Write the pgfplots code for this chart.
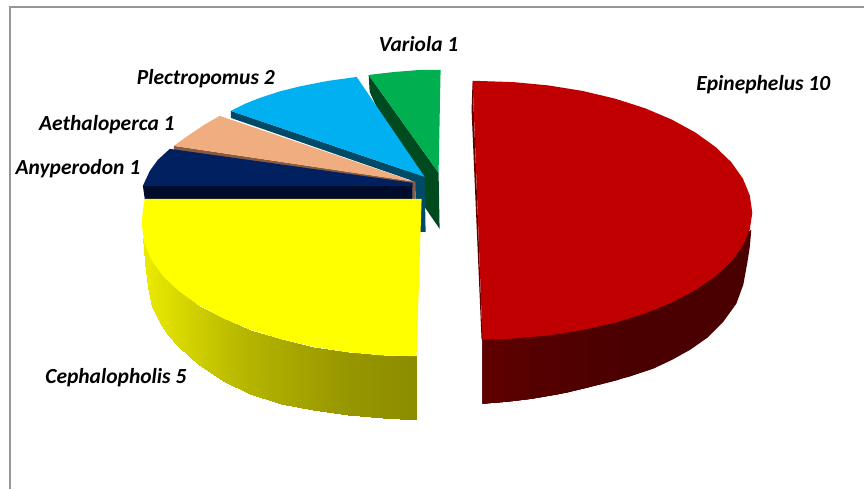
\documentclass[border=0pt]{standalone}
\usepackage{pgfplots}
\pgfplotsset{compat=1.18}
\usepackage{fontspec}
\setmainfont{Carlito}
\definecolor{cred}{HTML}{C00000}
\definecolor{cyel}{HTML}{FFFF00}
\definecolor{cnavy}{HTML}{002060}
\definecolor{cnavyd}{HTML}{000C2C}
\definecolor{cpeach}{HTML}{F0AE80}
\definecolor{cpeachd}{HTML}{8A5A40}
\definecolor{cblue}{HTML}{00B0F0}
\definecolor{cblued}{HTML}{004A68}
\definecolor{cgreen}{HTML}{00B050}
\definecolor{cgreend}{HTML}{004A20}
\definecolor{cframe}{HTML}{969696}
\tikzset{lab/.style={font=\fontsize{21.5}{24}\selectfont\bfseries\itshape, text=black}}
\begin{document}
\begin{tikzpicture}
\begin{axis}[
  scale only axis, width=865pt, height=489pt,
  xmin=0, xmax=865, ymin=0, ymax=489, y dir=reverse,
  axis lines=none, clip=false,
  every axis plot/.append style={draw=none, mark=none},
  colormap={sidey}{rgb255(140)=(140,140,0) rgb255(235)=(235,235,0)},
  point meta min=140, point meta max=235,
]
\path (axis cs:0,0) (axis cs:865,489);
% frame
\addplot[draw=cframe, line width=1.6pt] coordinates {(10,489) (10,7) (865,7)};
% Variola
\addplot[fill=cgreend] coordinates {(369,75) (439,173) (440,229) (420,200) (370,92)} -- cycle;
\addplot[fill=cgreen] coordinates {(369,75) (382,73.5) (395,72) (408,71) (420,70) (441,70) (439,173)} -- cycle;
% Plectropomus
\addplot[fill=cblued] coordinates {(231,111) (425,177) (426,232) (416,232) (416,182) (231,118)} -- cycle;
\addplot[fill=cblue] coordinates {(231,111) (245,104) (260,98) (280,91.5) (300,86.5) (328,81) (357,77) (425,177)} -- cycle;
% Aethaloperca
\addplot[fill=cpeachd] coordinates {(174,146) (416,182) (416,199) (413,199) (413,187) (174,150)} -- cycle;
\addplot[fill=cpeach] coordinates {(174,146) (190,134.5) (205,124.5) (220,116) (415,182)} -- cycle;
% Anyperodon
\addplot[fill=cnavyd] coordinates {(143,186) (413,186) (413,200) (145,200)} -- cycle;
\addplot[fill=cnavy] coordinates {(170,149) (158,160) (150,171) (143,186) (413,186) (413,183)} -- cycle;
% Cephalopholis side
\addplot[patch, patch type=rectangle, shader=interp, point meta=explicit]
  coordinates {
  (143,238) [235] (145,262) [234] (148,287) [232] (148,253) [232]
  (148,253) [232] (148,287) [232] (152,307) [230] (152,261) [230]
  (152,261) [230] (152,307) [230] (160,323) [226] (160,272) [226]
  (160,272) [226] (160,323) [226] (168,335) [222] (168,281) [222]
  (168,281) [222] (168,335) [222] (178,346) [216] (178,290) [216]
  (178,290) [216] (178,346) [216] (190,357) [210] (190,299) [210]
  (190,299) [210] (190,357) [210] (199.5,365) [205] (199.5,305.8) [205]
  (199.5,305.8) [205] (199.5,365) [205] (223.5,381) [192] (223.5,318.6) [192]
  (223.5,318.6) [192] (223.5,381) [192] (250.7,394) [180] (250.7,329.9) [180]
  (250.7,329.9) [180] (250.7,394) [180] (281,404) [170] (281,339.4) [170]
  (281,339.4) [170] (281,404) [170] (313.5,410.5) [160] (313.5,347) [160]
  (313.5,347) [160] (313.5,410.5) [160] (348,415) [150] (348,352.5) [150]
  (348,352.5) [150] (348,415) [150] (383.6,418) [145] (383.6,355.8) [145]
  (383.6,355.8) [145] (383.6,418) [145] (417,420) [140] (417,356.5) [140]
  };
% Cephalopholis top
\addplot[fill=cyel] coordinates {(145,199) (422,199) (417,356.5) (383.6,355.8) (348,352.5) (313.5,347) (281,339.4) (250.7,329.9) (223.5,318.6) (199.5,305.8) (179.3,291.5) (163.1,276.2) (151.5,259.9) (144.5,243.2) (142,226) (142.5,215) (143.5,207)} -- cycle;
% Epinephelus side
\addplot[fill={rgb,255:red,74;green,0;blue,0}] coordinates {(752,230) (750.5,247) (748,263) (744,285) (737,304) (724,322) (708,338) (691,350) (673,360) (654,369) (630,377) (600,385) (567,393) (533,399) (508,402) (483,404) (483,300) (700,260)} -- cycle;
\addplot[fill={rgb,255:red,77;green,0;blue,0}] coordinates {(620,380) (600,385) (567,393) (533,399) (508,402) (483,404) (483,300) (620,300)} -- cycle;
\addplot[fill={rgb,255:red,81;green,0;blue,0}] coordinates {(590,387.5) (567,393) (533,399) (508,402) (483,404) (483,300) (590,300)} -- cycle;
\addplot[fill={rgb,255:red,85;green,0;blue,0}] coordinates {(560,394.5) (533,399) (508,402) (483,404) (483,300) (560,300)} -- cycle;
\addplot[fill={rgb,255:red,89;green,0;blue,0}] coordinates {(530,399.5) (508,402) (483,404) (483,300) (530,300)} -- cycle;
\addplot[fill={rgb,255:red,94;green,0;blue,0}] coordinates {(506,402.2) (483,404) (483,300) (506,300)} -- cycle;
% sliver on the left edge
\addplot[fill={rgb,255:red,94;green,0;blue,0}] coordinates {(473,81) (472,110) (482,340) (483,340)} -- cycle;
% Epinephelus top
\addplot[fill=cred] coordinates {(473,81) (478,81) (514,82.2) (549,85.5) (583,91) (615.5,98.7) (645.5,108.3) (672.4,119.7) (696,132.6) (716,147) (732,162.4) (743.6,178.8) (750.5,195.7) (753,213) (750.5,229.6) (743.6,245.9) (732,261.6) (716,276.5) (696,290.3) (672.4,302.8) (645.5,313.7) (615.5,323) (583,330.3) (549,335.7) (514,338.9) (483,340) (475,130)} -- cycle;
% labels
\node[lab] at (axis cs:419,44) {Variola 1};
\node[lab] at (axis cs:764,85) {Epinephelus 10};
\node[lab] at (axis cs:206,79) {Plectropomus 2};
\node[lab] at (axis cs:107,125) {Aethaloperca 1};
\node[lab] at (axis cs:78,169) {Anyperodon 1};
\node[lab] at (axis cs:116,378) {Cephalopholis 5};
\end{axis}
\end{tikzpicture}
\end{document}
